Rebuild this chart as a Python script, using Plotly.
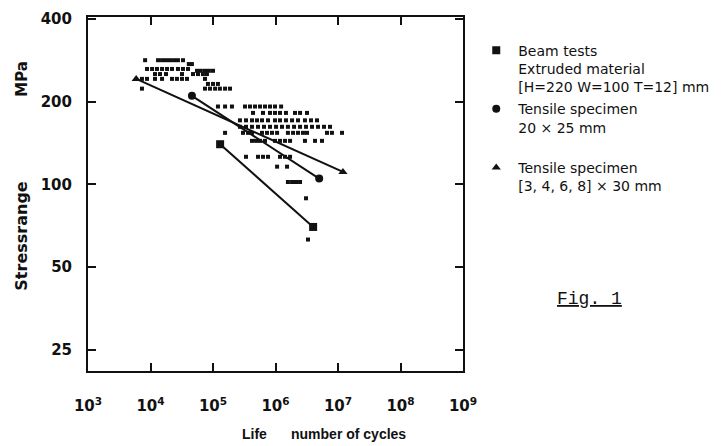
import plotly.graph_objects as go

# ---- Data (cycles, MPa) ----
# Mean-curve endpoints for each specimen type
beam_N = [1.3e5, 4.0e6]
beam_S = [140, 70]
t20_N = [4.6e4, 5.0e6]
t20_S = [210, 105]
t30_N = [5.9e3, 1.2e7]
t30_S = [242, 111]

# Individual test results (small marks)
res_N = [
    8.2e3, 1.32e4, 1.53e4, 1.77e4, 2.05e4, 2.38e4, 2.75e4, 3.31e4,
    4.1e4, 4.6e4,
    8.8e3, 1.06e4, 1.27e4, 1.53e4, 1.84e4, 2.21e4, 2.75e4, 3.31e4, 3.98e4,
    5.55e4, 6.4e4, 7.45e4, 8.6e4, 1.0e5,
    1.18e4, 1.42e4, 1.77e4, 3.19e4, 4.79e4, 5.75e4, 6.9e4, 8.0e4,
    7.3e3, 8.8e3, 1.18e4, 1.53e4, 2.21e4, 2.65e4, 3.19e4, 3.84e4, 7.45e4,
    8.3e4, 1.0e5, 1.2e5,
    7.3e3, 7.45e4, 8.95e4, 1.08e5, 1.29e5, 1.56e5, 1.87e5,
    1.2e5, 1.56e5, 2.01e5, 3.25e5, 3.91e5, 4.7e5, 5.65e5, 6.79e5, 8.17e5, 9.82e5, 1.23e6,
    4.37e5, 6.31e5, 8.17e5, 9.82e5, 1.18e6, 1.47e6, 2.05e6, 2.47e6, 3.19e6,
    2.7e5, 3.37e5, 4.21e5, 5.06e5, 6.08e5, 7.59e5, 9.82e5, 1.18e6, 1.47e6, 1.84e6, 2.29e6, 2.96e6, 3.7e6, 4.61e6,
    2.7e5, 3.37e5, 4.21e5, 5.25e5, 6.55e5, 8.17e5, 1.02e6, 1.27e6, 1.58e6, 1.98e6, 2.47e6, 3.08e6, 3.84e6, 4.79e6, 5.97e6, 7.45e6,
    1.56e5, 3.02e5, 3.63e5, 4.21e5, 6.08e5, 7.31e5, 8.79e5, 1.06e6, 1.58e6, 1.91e6, 2.29e6, 2.75e6, 3.19e6, 6.67e6, 8.0e6, 1.16e7,
    4.21e5, 4.88e5, 5.65e5, 6.79e5, 9.82e5, 1.18e6, 1.42e6, 1.71e6, 2.96e6, 4.29e6, 5.55e6,
    3.37e5, 5.25e5, 6.31e5, 7.59e5, 1.18e6, 1.42e6, 1.71e6,
    1.06e6, 1.53e6,
    1.58e6, 1.84e6, 2.13e6, 2.47e6,
    3.08e6,
    3.31e6,
]
res_S = (
    [283] * 8 + [274] * 2 + [263] * 9 + [259] * 5 + [252] * 8 + [242] * 9
    + [232] * 3 + [223] * 7 + [192] * 11 + [182] * 9 + [171] * 14 + [162] * 16
    + [154] * 16 + [144] * 11 + [126] * 7 + [116] * 2 + [102] * 4 + [89] + [63]
)

x_tickvals = [1e3, 1e4, 1e5, 1e6, 1e7, 1e8, 1e9]
x_ticktext = ["10<sup>3</sup>", "10<sup>4</sup>", "10<sup>5</sup>", "10<sup>6</sup>",
              "10<sup>7</sup>", "10<sup>8</sup>", "10<sup>9</sup>"]
y_tickvals = [25, 50, 100, 200, 400]
y_ticktext = ["25", "50", "100", "200", "400"]

legend_names = [
    "Beam tests<br>Extruded material<br>[H=220 W=100 T=12] mm",
    "Tensile specimen<br>20 × 25 mm<br>\u00a0",
    "Tensile specimen<br>[3, 4, 6, 8] × 30 mm",
]

BLACK = "#111111"
fig = go.Figure()

fig.add_trace(go.Scatter(x=res_N, y=res_S, mode="markers",
                         marker=dict(symbol="square", size=4, color=BLACK),
                         showlegend=False, hoverinfo="skip"))

for N, S in [(beam_N, beam_S), (t20_N, t20_S), (t30_N, t30_S)]:
    fig.add_trace(go.Scatter(x=N, y=S, mode="lines",
                             line=dict(color=BLACK, width=2),
                             showlegend=False, hoverinfo="skip"))

for i, (N, S, sym, sz, name) in enumerate([
    (beam_N, beam_S, "square", 8, legend_names[0]),
    (t20_N, t20_S, "circle", 8, legend_names[1]),
    (t30_N, t30_S, "triangle-up", 8, legend_names[2]),
]):
    fig.add_trace(go.Scatter(x=N, y=S, mode="markers", name=name, legendgroup=f"g{i}",
                             marker=dict(symbol=sym, size=sz, color=BLACK)))

FONT = "DejaVu Sans"
LABEL_FONT = "Liberation Sans"
axis_common = dict(showline=True, linewidth=2, linecolor=BLACK, mirror="ticks",
                   ticks="inside", ticklen=8, tickwidth=1.5, tickcolor=BLACK,
                   showgrid=False, zeroline=False,
                   tickfont=dict(family=FONT, size=15, color=BLACK, weight="bold"))

fig.update_xaxes(type="log", range=[3, 9], tickvals=x_tickvals, ticktext=x_ticktext,
                 ticklabelstandoff=20, **axis_common)
fig.update_yaxes(type="log", range=[1.321, 2.609], tickvals=y_tickvals, ticktext=y_ticktext,
                 ticklabelstandoff=11, **axis_common)

T, B = 10, 75
PH = 446 - T - B
BOT = 446 - B


def py(p):
    return (BOT - p) / PH


def px(p):
    return (p - 88) / 375


fig.update_layout(
    width=724, height=446,
    margin=dict(l=88, r=261, t=T, b=B),
    paper_bgcolor="white", plot_bgcolor="white",
    font=dict(family=FONT, color=BLACK),
    legend=dict(x=1.03, y=py(28), xanchor="left", yanchor="top",
                valign="top", tracegroupgap=1, itemwidth=34,
                font=dict(family=FONT, size=14, color=BLACK),
                bgcolor="rgba(0,0,0,0)"),
    annotations=[
        dict(text="Life", xref="paper", yref="paper", x=px(254), y=py(435),
             showarrow=False, xanchor="center", yanchor="middle",
             font=dict(family=LABEL_FONT, size=14, color=BLACK, weight="bold")),
        dict(text="number of cycles", xref="paper", yref="paper", x=px(348), y=py(435),
             showarrow=False, xanchor="center", yanchor="middle",
             font=dict(family=LABEL_FONT, size=14, color=BLACK, weight="bold")),
        dict(text="Stressrange", xref="paper", yref="paper", x=px(22), y=py(234),
             showarrow=False, textangle=-90, xanchor="center", yanchor="middle",
             font=dict(family=FONT, size=16, color=BLACK, weight="bold")),
        dict(text="MPa", xref="paper", yref="paper", x=px(22), y=py(73),
             showarrow=False, textangle=-90, xanchor="center", yanchor="middle",
             font=dict(family=FONT, size=15, color=BLACK, weight="bold")),
        dict(text="<u>Fig. 1</u>", xref="paper", yref="paper", x=px(589), y=py(298),
             showarrow=False, xanchor="center", yanchor="middle",
             font=dict(family="Liberation Mono", size=18, color=BLACK)),
    ],
)

fig.write_html("out.html", config={"displayModeBar": False},
               post_script="document.body.style.margin='0';document.body.style.padding='0';")
